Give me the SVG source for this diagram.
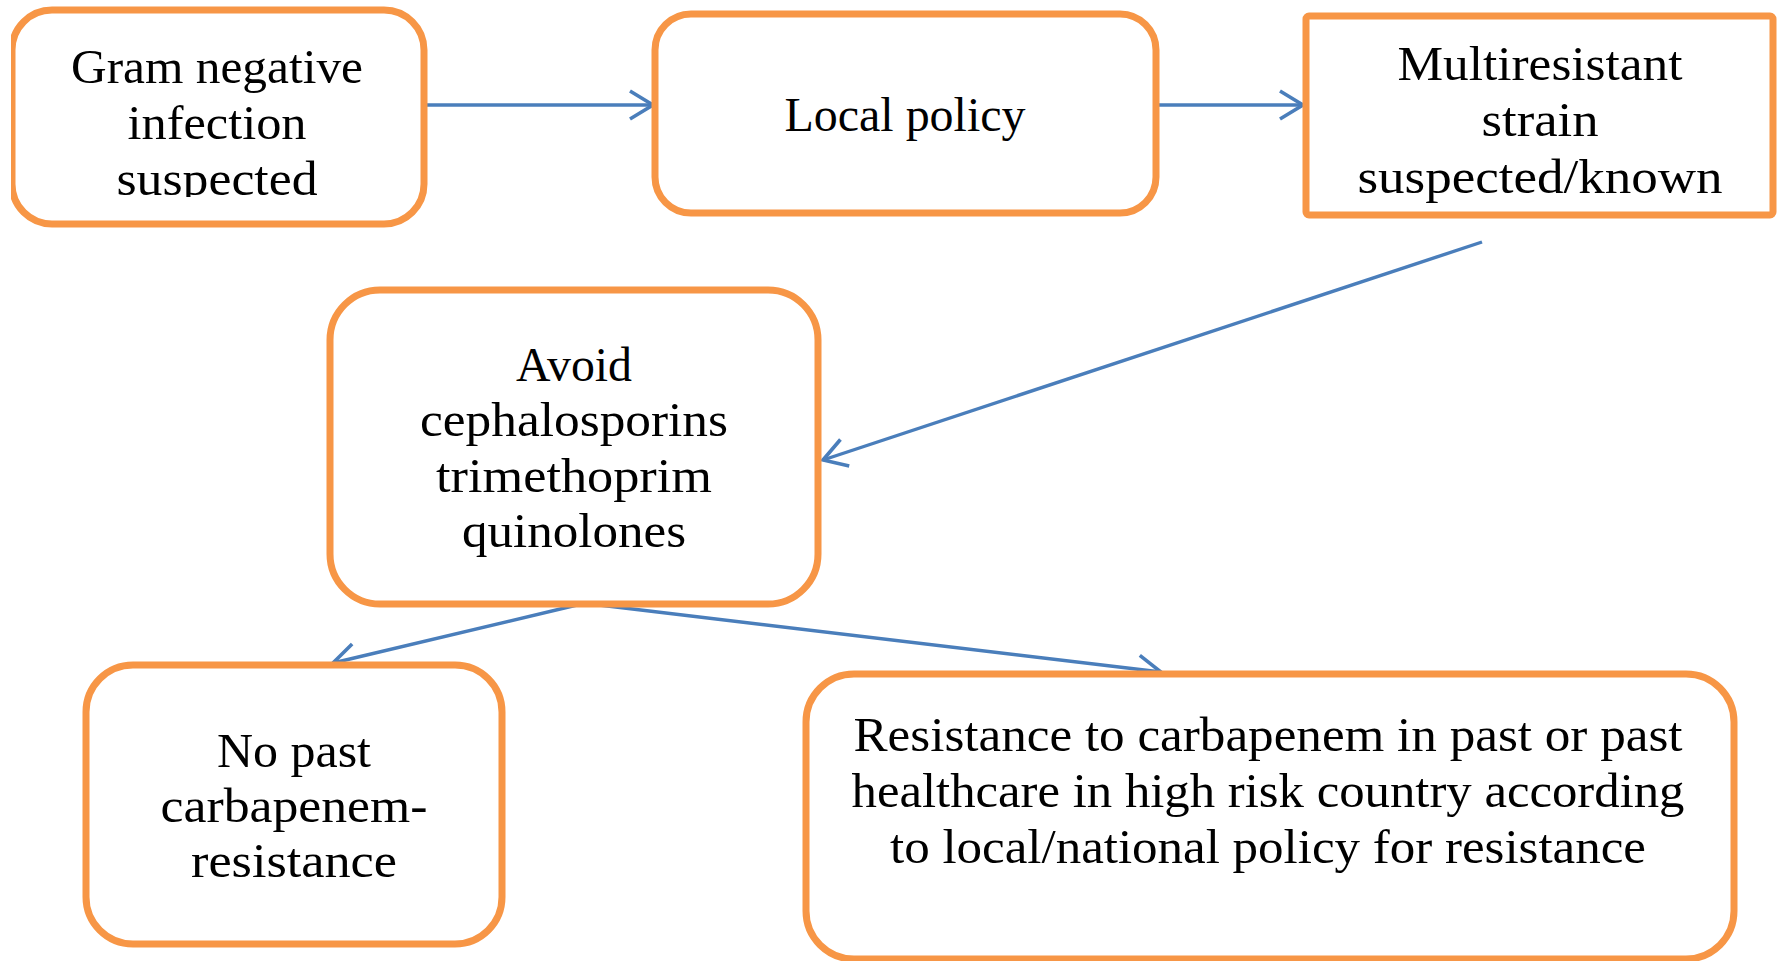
<svg xmlns="http://www.w3.org/2000/svg" width="1784" height="961" viewBox="0 0 1784 961">
<style>
.box{fill:#ffffff;stroke:#F79646;stroke-width:7}
.t{font-family:"Liberation Serif","Times New Roman",serif;font-size:48px;fill:#000000;text-anchor:middle}
.c{fill:none;stroke:#4A7EBB;stroke-width:3.4}
</style>
<defs>
<marker id="ah" markerUnits="userSpaceOnUse" markerWidth="40" markerHeight="40" viewBox="-30 -20 40 40" refX="0" refY="0" orient="auto">
<path d="M -23 -14 L 0 0 L -23 14" fill="none" stroke="#4A7EBB" stroke-width="3.6" stroke-linejoin="miter"/>
</marker>
<clipPath id="clip1"><rect x="11" y="0" width="430" height="240"/></clipPath>
<clipPath id="clip1t"><rect x="11" y="0" width="430" height="197"/></clipPath>
</defs>
<rect width="1784" height="961" fill="#ffffff"/>
<g id="connectors">
<line class="c" x1="424" y1="105" x2="653" y2="105" marker-end="url(#ah)"/>
<line class="c" x1="1156" y1="105" x2="1303" y2="105" marker-end="url(#ah)"/>
<line class="c" x1="1482" y1="242" x2="823" y2="460" marker-end="url(#ah)"/>
<line class="c" x1="577" y1="605" x2="333" y2="663" marker-end="url(#ah)"/>
<line class="c" x1="599" y1="605" x2="1161" y2="672" marker-end="url(#ah)"/>
</g>
<g id="n1">
<rect class="box" x="12" y="10" width="412" height="214" rx="40" clip-path="url(#clip1)"/>
<g clip-path="url(#clip1t)">
<text class="t" x="217" y="83" textLength="292" lengthAdjust="spacingAndGlyphs">Gram negative</text>
<text class="t" x="217" y="139" textLength="179" lengthAdjust="spacingAndGlyphs">infection</text>
<text class="t" x="217" y="195" textLength="201" lengthAdjust="spacingAndGlyphs">suspected</text>
</g>
</g>
<g id="n2">
<rect class="box" x="655" y="14" width="501" height="199" rx="36"/>
<text class="t" x="905" y="131" textLength="241" lengthAdjust="spacingAndGlyphs">Local policy</text>
</g>
<g id="n3">
<rect class="box" x="1306" y="16" width="467" height="199" rx="3"/>
<text class="t" x="1540" y="80" textLength="285" lengthAdjust="spacingAndGlyphs">Multiresistant</text>
<text class="t" x="1540" y="136" textLength="117" lengthAdjust="spacingAndGlyphs">strain</text>
<text class="t" x="1540" y="193" textLength="365" lengthAdjust="spacingAndGlyphs">suspected/known</text>
</g>
<g id="n4">
<rect class="box" x="330" y="290" width="488" height="314" rx="50"/>
<text class="t" x="574" y="381" textLength="116" lengthAdjust="spacingAndGlyphs">Avoid</text>
<text class="t" x="574" y="436" textLength="308" lengthAdjust="spacingAndGlyphs">cephalosporins</text>
<text class="t" x="574" y="492" textLength="276" lengthAdjust="spacingAndGlyphs">trimethoprim</text>
<text class="t" x="574" y="547" textLength="224" lengthAdjust="spacingAndGlyphs">quinolones</text>
</g>
<g id="n5">
<rect class="box" x="86" y="665" width="416" height="279" rx="47"/>
<text class="t" x="294" y="767" textLength="154" lengthAdjust="spacingAndGlyphs">No past</text>
<text class="t" x="294" y="822" textLength="267" lengthAdjust="spacingAndGlyphs">carbapenem-</text>
<text class="t" x="294" y="877" textLength="206" lengthAdjust="spacingAndGlyphs">resistance</text>
</g>
<g id="n6">
<rect class="box" x="806" y="674" width="928" height="285" rx="48"/>
<text class="t" x="1268" y="751" textLength="829" lengthAdjust="spacingAndGlyphs">Resistance to carbapenem in past or past</text>
<text class="t" x="1268" y="807" textLength="833" lengthAdjust="spacingAndGlyphs">healthcare in high risk country according</text>
<text class="t" x="1268" y="863" textLength="756" lengthAdjust="spacingAndGlyphs">to local/national policy for resistance</text>
</g>
</svg>
